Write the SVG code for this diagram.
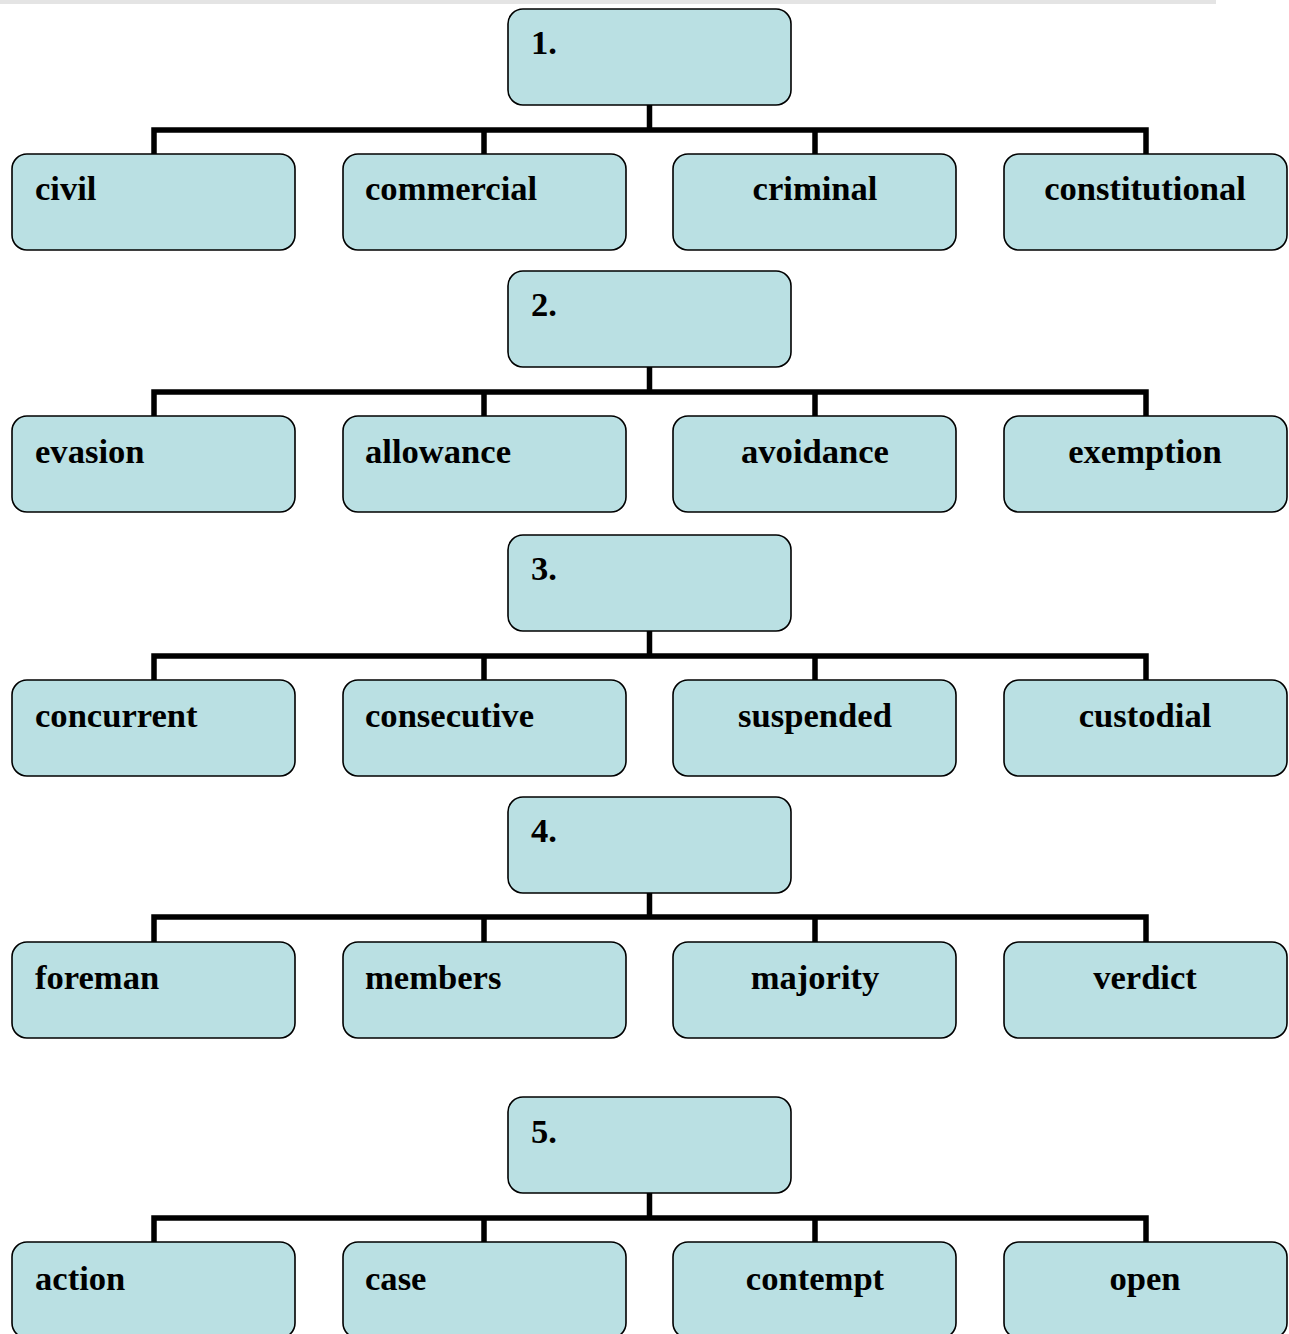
<svg xmlns="http://www.w3.org/2000/svg" width="1289" height="1334" viewBox="0 0 1289 1334">
<style>
.b{fill:#bae0e3;stroke:#000;stroke-width:1.6}
.t{font-family:"Liberation Serif","Times New Roman",serif;font-weight:bold;font-size:34.6px;fill:#000}
.c{text-anchor:middle}
.k{fill:none;stroke:#000;stroke-width:5.5;stroke-linejoin:miter}
</style>
<rect x="0" y="0" width="1216" height="4" fill="#e4e4e4"/>
<g id="connectors">
<path class="k" d="M649.5 105V130M154 154V130H1146V154M484 130V154M815 130V154"/>
<path class="k" d="M649.5 367V392M154 416V392H1146V416M484 392V416M815 392V416"/>
<path class="k" d="M649.5 631V656M154 680V656H1146V680M484 656V680M815 656V680"/>
<path class="k" d="M649.5 893V917M154 942V917H1146V942M484 917V942M815 917V942"/>
<path class="k" d="M649.5 1193V1218M154 1242V1218H1146V1242M484 1218V1242M815 1218V1242"/>
</g>
<g id="n1"><rect class="b" x="508" y="9" width="283" height="96" rx="15"/><text class="t" x="531" y="54">1.</text></g>
<g id="civil"><rect class="b" x="12" y="154" width="283" height="96" rx="15"/><text class="t" x="35" y="200">civil</text></g>
<g id="commercial"><rect class="b" x="343" y="154" width="283" height="96" rx="15"/><text class="t" x="365" y="200">commercial</text></g>
<g id="criminal"><rect class="b" x="673" y="154" width="283" height="96" rx="15"/><text class="t c" x="815" y="200">criminal</text></g>
<g id="constitutional"><rect class="b" x="1004" y="154" width="283" height="96" rx="15"/><text class="t c" x="1145" y="200">constitutional</text></g>

<g id="n2"><rect class="b" x="508" y="271" width="283" height="96" rx="15"/><text class="t" x="531" y="316">2.</text></g>
<g id="evasion"><rect class="b" x="12" y="416" width="283" height="96" rx="15"/><text class="t" x="35" y="463">evasion</text></g>
<g id="allowance"><rect class="b" x="343" y="416" width="283" height="96" rx="15"/><text class="t" x="365" y="463">allowance</text></g>
<g id="avoidance"><rect class="b" x="673" y="416" width="283" height="96" rx="15"/><text class="t c" x="815" y="463">avoidance</text></g>
<g id="exemption"><rect class="b" x="1004" y="416" width="283" height="96" rx="15"/><text class="t c" x="1145" y="463">exemption</text></g>

<g id="n3"><rect class="b" x="508" y="535" width="283" height="96" rx="15"/><text class="t" x="531" y="580">3.</text></g>
<g id="concurrent"><rect class="b" x="12" y="680" width="283" height="96" rx="15"/><text class="t" x="35" y="727">concurrent</text></g>
<g id="consecutive"><rect class="b" x="343" y="680" width="283" height="96" rx="15"/><text class="t" x="365" y="727">consecutive</text></g>
<g id="suspended"><rect class="b" x="673" y="680" width="283" height="96" rx="15"/><text class="t c" x="815" y="727">suspended</text></g>
<g id="custodial"><rect class="b" x="1004" y="680" width="283" height="96" rx="15"/><text class="t c" x="1145" y="727">custodial</text></g>

<g id="n4"><rect class="b" x="508" y="797" width="283" height="96" rx="15"/><text class="t" x="531" y="842">4.</text></g>
<g id="foreman"><rect class="b" x="12" y="942" width="283" height="96" rx="15"/><text class="t" x="35" y="989">foreman</text></g>
<g id="members"><rect class="b" x="343" y="942" width="283" height="96" rx="15"/><text class="t" x="365" y="989">members</text></g>
<g id="majority"><rect class="b" x="673" y="942" width="283" height="96" rx="15"/><text class="t c" x="815" y="989">majority</text></g>
<g id="verdict"><rect class="b" x="1004" y="942" width="283" height="96" rx="15"/><text class="t c" x="1145" y="989">verdict</text></g>

<g id="n5"><rect class="b" x="508" y="1097" width="283" height="96" rx="15"/><text class="t" x="531" y="1143">5.</text></g>
<g id="action"><rect class="b" x="12" y="1242" width="283" height="96" rx="15"/><text class="t" x="35" y="1290">action</text></g>
<g id="case"><rect class="b" x="343" y="1242" width="283" height="96" rx="15"/><text class="t" x="365" y="1290">case</text></g>
<g id="contempt"><rect class="b" x="673" y="1242" width="283" height="96" rx="15"/><text class="t c" x="815" y="1290">contempt</text></g>
<g id="open"><rect class="b" x="1004" y="1242" width="283" height="96" rx="15"/><text class="t c" x="1145" y="1290">open</text></g>
</svg>
